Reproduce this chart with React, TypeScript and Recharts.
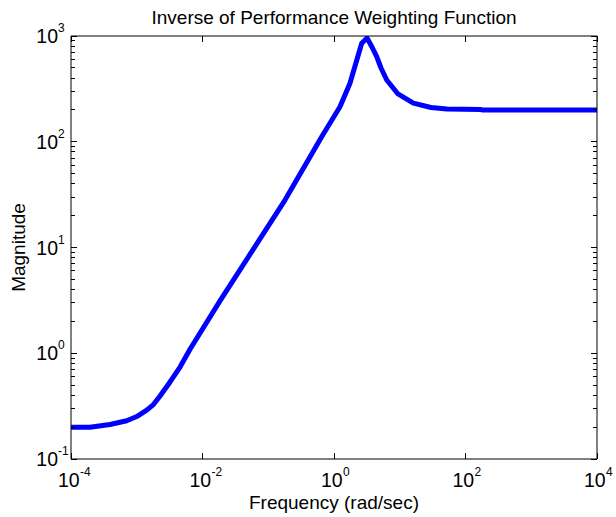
import React from 'react';
import { LineChart, Line, XAxis, YAxis } from 'recharts';

// Frequency (rad/sec) and magnitude
const frequency = [
  1e-4, 1.94e-4, 3.92e-4, 7.03e-4, 1.0e-3, 1.42e-3, 1.79e-3, 2.26e-3, 3.21e-3,
  4.55e-3, 6.46e-3, 0.01845, 0.0527, 0.1797, 0.65, 1.233, 1.75, 2.64, 3.18,
  3.78, 4.46, 5.19, 6.34, 9.4, 16.1, 29.9, 52.3, 166, 185, 1e4,
];
const magnitude = [
  0.2, 0.2, 0.212, 0.23, 0.252, 0.29, 0.327, 0.394, 0.535,
  0.741, 1.09, 3.13, 8.59, 28.1, 111.6, 214, 357, 853, 957,
  787, 637, 498, 384, 283, 232, 211, 204, 202, 200, 200,
];

const xTicks = [1e-4, 1e-2, 1, 1e2, 1e4];
const yMajorTicks = [0.1, 1, 10, 100, 1000];
const yMinorFactors = [2, 3, 4, 5, 6, 7, 8, 9];

const titleText = 'Inverse of Performance Weighting Function';
const xLabelText = 'Frequency (rad/sec)';
const yLabelText = 'Magnitude';

const data = frequency.map((f, i) => ({ f, m: magnitude[i] }));
const yTicks: number[] = [];
yMajorTicks.forEach((t, i) => {
  yTicks.push(t);
  if (i < yMajorTicks.length - 1) yMinorFactors.forEach((k) => yTicks.push(t * k));
});

const FONT = '"Liberation Sans", Arial, Helvetica, sans-serif';
const isMajor = (v: number) => {
  const l = Math.log10(v);
  return Math.abs(l - Math.round(l)) < 1e-9;
};
const expOf = (v: number) => String(Math.round(Math.log10(v)));

const LeftTick = (props: any) => {
  const { x, y, payload } = props;
  const v = payload.value;
  const major = isMajor(v);
  return (
    <g>
      <line x1={x} y1={y} x2={x + (major ? 6 : 4)} y2={y} stroke="#000" strokeWidth={1} shapeRendering="crispEdges" />
      {major && (
        <text x={x - 13} y={y + 7} fontFamily={FONT} fontSize={19.5} textAnchor="end" fill="#000">
          10
        </text>
      )}
      {major && (
        <text x={x - 13} y={y - 4} fontFamily={FONT} fontSize={12} textAnchor="start" fill="#000">
          {expOf(v)}
        </text>
      )}
    </g>
  );
};

const RightTick = (props: any) => {
  const { x, y, payload } = props;
  const major = isMajor(payload.value);
  return <line x1={x} y1={y} x2={x - (major ? 6 : 4)} y2={y} stroke="#000" strokeWidth={1} shapeRendering="crispEdges" />;
};

const BottomTick = (props: any) => {
  const { x, y, payload } = props;
  const v = payload.value;
  return (
    <g>
      <line x1={x} y1={y} x2={x} y2={y - 6} stroke="#000" strokeWidth={1} shapeRendering="crispEdges" />
      <text x={x - 13} y={y + 28} fontFamily={FONT} fontSize={19.5} textAnchor="start" fill="#000">
        10
      </text>
      <text x={x + 9} y={y + 17} fontFamily={FONT} fontSize={12} textAnchor="start" fill="#000">
        {expOf(v)}
      </text>
    </g>
  );
};

const TopTick = (props: any) => {
  const { x, y } = props;
  return <line x1={x} y1={y} x2={x} y2={y + 6} stroke="#000" strokeWidth={1} shapeRendering="crispEdges" />;
};

export default function App() {
  return (
    <div style={{ position: 'fixed', left: 0, top: 0, width: 616, height: 517, background: '#fff' }}>
      <LineChart width={616} height={517} data={data} margin={{ top: 0, right: 0, bottom: 0, left: 0 }}>
        <XAxis
          dataKey="f"
          type="number"
          scale="log"
          domain={[1e-4, 1e4]}
          allowDataOverflow
          ticks={xTicks}
          interval={0}
          height={58}
          tickSize={0}
          tickMargin={0}
          tickLine={false}
          axisLine={{ stroke: '#000', strokeWidth: 1 }}
          tick={<BottomTick />}
        />
        <XAxis
          xAxisId="top"
          orientation="top"
          dataKey="f"
          type="number"
          scale="log"
          domain={[1e-4, 1e4]}
          allowDataOverflow
          ticks={xTicks}
          interval={0}
          height={36}
          tickSize={0}
          tickMargin={0}
          tickLine={false}
          axisLine={{ stroke: '#000', strokeWidth: 1 }}
          tick={<TopTick />}
        />
        <YAxis
          type="number"
          scale="log"
          domain={[0.1, 1000]}
          allowDataOverflow
          ticks={yTicks}
          interval={0}
          width={71}
          tickSize={0}
          tickMargin={0}
          tickLine={false}
          axisLine={{ stroke: '#000', strokeWidth: 1 }}
          tick={<LeftTick />}
        />
        <YAxis
          yAxisId="right"
          orientation="right"
          type="number"
          scale="log"
          domain={[0.1, 1000]}
          allowDataOverflow
          ticks={yTicks}
          interval={0}
          width={19}
          tickSize={0}
          tickMargin={0}
          tickLine={false}
          axisLine={{ stroke: '#000', strokeWidth: 1 }}
          tick={<RightTick />}
        />
        <Line
          dataKey="m"
          type="linear"
          stroke="#0000ff"
          strokeWidth={5}
          dot={false}
          isAnimationActive={false}
          strokeLinejoin="round"
        />
      </LineChart>
      <svg
        width={616}
        height={517}
        style={{ position: 'absolute', left: 0, top: 0, pointerEvents: 'none' }}
      >
        <text x={334} y={24} textAnchor="middle" fontFamily={FONT} fontSize={19} fill="#000">
          {titleText}
        </text>
        <text x={334} y={509} textAnchor="middle" fontFamily={FONT} fontSize={19} fill="#000">
          {xLabelText}
        </text>
        <text
          x={25}
          y={247.5}
          textAnchor="middle"
          fontFamily={FONT}
          fontSize={19}
          fill="#000"
          transform="rotate(-90 25 247.5)"
        >
          {yLabelText}
        </text>
      </svg>
    </div>
  );
}
